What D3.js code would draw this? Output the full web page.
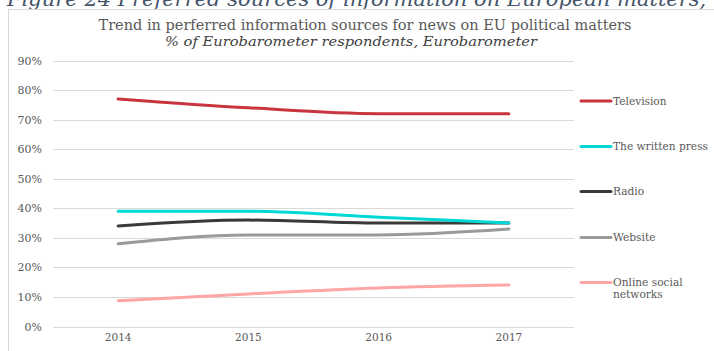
<!DOCTYPE html>
<html>
<head>
<meta charset="utf-8">
<script src="https://cdn.jsdelivr.net/npm/d3@7"></script>
<style>
  html, body { margin: 0; padding: 0; background: #fff; }
  svg { display: block; }
  text { font-family: "DejaVu Serif", Georgia, serif; }
</style>
</head>
<body>
<svg id="chart" width="714" height="351"></svg>
<script>
// Share of respondents (%) naming each source, by survey year
const years = ["2014", "2015", "2016", "2017"];
const television   = [77, 74, 72, 72];
const writtenPress = [39, 39, 37, 35];
const radio        = [34, 36, 35, 35];
const website      = [28, 31, 31, 33];
const socialNets   = [8.7, 11, 13, 14];
const yTicks = [0, 10, 20, 30, 40, 50, 60, 70, 80, 90];

const seriesNames  = ["Television", "The written press", "Radio", "Website", "Online social networks"];
const seriesValues = [television, writtenPress, radio, website, socialNets];
const seriesColors = ["#C9353F", "#00D8D8", "#3A3A3A", "#9A9A9A", "#FFA5A5"];

const svg = d3.select("#chart");

// Caption above the chart frame (partly cut off at the top edge)
svg.append("text")
  .attr("x", 7).attr("y", 6)
  .attr("font-style", "italic")
  .attr("font-size", 21)
  .attr("fill", "#44546A")
  .text("Figure 24 Preferred sources of information on European matters,");

// Chart frame
svg.append("rect")
  .attr("x", 8.5).attr("y", 9.5)
  .attr("width", 720).attr("height", 360)
  .attr("fill", "none")
  .attr("stroke", "#D9D9D9");

// Titles
svg.append("text")
  .attr("x", 365).attr("y", 30)
  .attr("text-anchor", "middle")
  .attr("font-size", 14)
  .attr("textLength", 533)
  .attr("lengthAdjust", "spacingAndGlyphs")
  .attr("fill", "#595959")
  .text("Trend in perferred information sources for news on EU political matters");
svg.append("text")
  .attr("x", 351).attr("y", 46)
  .attr("text-anchor", "middle")
  .attr("font-style", "italic")
  .attr("font-size", 12.5)
  .attr("textLength", 372)
  .attr("lengthAdjust", "spacingAndGlyphs")
  .attr("fill", "#404040")
  .text("% of Eurobarometer respondents, Eurobarometer");

// Scales
const plot = { left: 53, right: 574, top: 60.5, bottom: 326.5 };
const x = d3.scaleBand().domain(years).range([plot.left, plot.right]);
const y = d3.scaleLinear().domain([0, 90]).range([plot.bottom, plot.top]);

// Gridlines
svg.append("g")
  .selectAll("line")
  .data(yTicks)
  .join("line")
  .attr("x1", plot.left).attr("x2", plot.right)
  .attr("y1", d => Math.round(y(d)) + 0.5)
  .attr("y2", d => Math.round(y(d)) + 0.5)
  .attr("stroke", "#D9D9D9")
  .attr("stroke-width", 1);

// Y axis labels
const yAxis = d3.axisLeft(y).tickValues(yTicks).tickFormat(d => d + "%").tickSize(0).tickPadding(0);
const gy = svg.append("g").attr("transform", `translate(${plot.left - 11},0)`).call(yAxis);
gy.select(".domain").remove();
gy.selectAll("text")
  .attr("font-family", "'DejaVu Serif', Georgia, serif")
  .attr("font-size", 11)
  .attr("fill", "#595959");

// X axis labels
const xAxis = d3.axisBottom(x).tickSize(0).tickPadding(0);
const gx = svg.append("g").attr("transform", `translate(0,${plot.bottom + 7})`).call(xAxis);
gx.select(".domain").remove();
gx.selectAll("text")
  .attr("font-family", "'DejaVu Serif', Georgia, serif")
  .attr("font-size", 10.5)
  .attr("fill", "#595959");

// Lines
const line = d3.line()
  .x((d, i) => x(years[i]) + x.bandwidth() / 2)
  .y(d => y(d))
  .curve(d3.curveMonotoneX);

svg.append("g")
  .selectAll("path")
  .data(seriesValues.slice().reverse())
  .join("path")
  .attr("d", d => line(d))
  .attr("fill", "none")
  .attr("stroke", (d, i) => seriesColors[seriesColors.length - 1 - i])
  .attr("stroke-width", 3)
  .attr("stroke-linecap", "round");

// Legend
const legendY = [101, 146.5, 191.5, 237.5, 282.5];
const legend = svg.append("g")
  .selectAll("g")
  .data(seriesNames)
  .join("g")
  .attr("transform", (d, i) => `translate(581,${legendY[i]})`);
legend.append("line")
  .attr("x1", 0).attr("x2", 30)
  .attr("stroke", (d, i) => seriesColors[i])
  .attr("stroke-width", 3)
  .attr("stroke-linecap", "round");
legend.append("text")
  .attr("font-size", 10.6)
  .attr("fill", "#595959")
  .each(function (d) {
    const words = d === "Online social networks" ? ["Online social", "networks"] : [d];
    const t = d3.select(this);
    words.forEach((w, k) => {
      t.append("tspan").attr("x", 32).attr("dy", k === 0 ? "0.35em" : "1.1em").text(w);
    });
  });
</script>
</body>
</html>
